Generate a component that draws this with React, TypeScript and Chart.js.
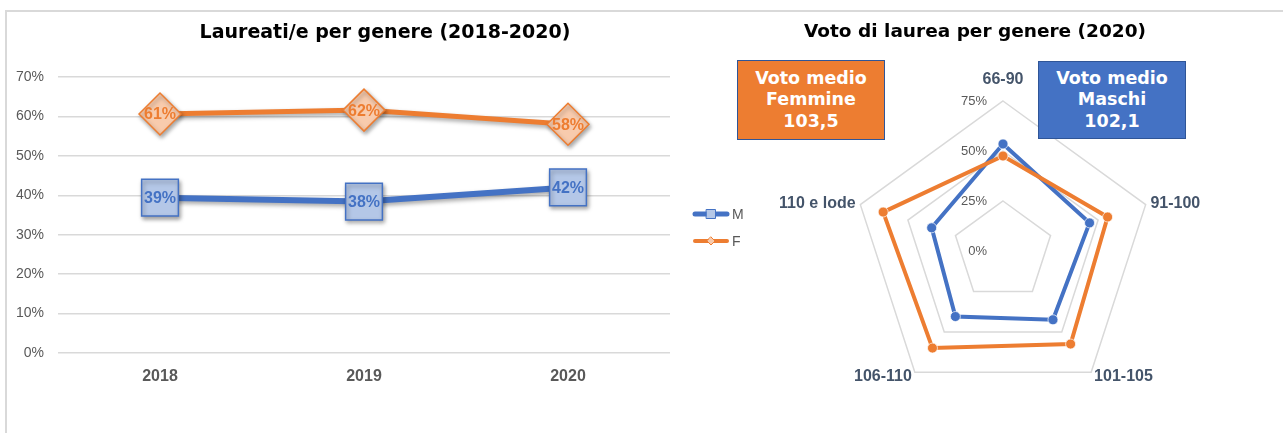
import React, { useEffect, useRef } from "react";
import { Chart, registerables } from "chart.js";

Chart.register(...registerables);

// ---- data ----
const years = ["2018", "2019", "2020"];
const maleShare = [0.394, 0.384, 0.42];
const femaleShare = [0.606, 0.616, 0.58];

const gradeBands = ["66-90", "91-100", "101-105", "106-110", "110 e lode"];
const maleGrades = [0.535, 0.455, 0.425, 0.405, 0.375];
const femaleGrades = [0.475, 0.55, 0.575, 0.6, 0.63];

const seriesNames = ["M", "F"];
const avgFemale = "103,5";
const avgMale = "102,1";
const leftTitle = "Laureati/e per genere (2018-2020)";
const rightTitle = "Voto di laurea per genere (2020)";

// ---- styles ----
const BLUE = "#4472C4";
const BLUE_LIGHT = "#B4C7E7";
const ORANGE = "#ED7D31";
const ORANGE_LIGHT = "#F8CBAD";
const GRID = "#D9D9D9";
const TEXT_GRAY = "#595959";
const SANS = "'Liberation Sans', Arial, sans-serif";
const VERDANA = "'DejaVu Sans', Verdana, sans-serif";

const pct = (v: number) => Math.round(v * 100) + "%";

const shadowPlugin = {
  id: "shadowPlugin",
  beforeDatasetsDraw(chart: any) {
    const c = chart.ctx;
    c.save();
    c.shadowColor = "rgba(0,0,0,0.35)";
    c.shadowBlur = 4;
    c.shadowOffsetX = 1.5;
    c.shadowOffsetY = 2.5;
  },
  afterDatasetsDraw(chart: any) {
    chart.ctx.restore();
  },
};

const lineLabelsPlugin = {
  id: "lineLabels",
  afterDraw(chart: any) {
    const c = chart.ctx;
    c.save();
    c.font = `bold 16px ${SANS}`;
    c.textAlign = "center";
    c.textBaseline = "middle";
    chart.data.datasets.forEach((ds: any, i: number) => {
      const meta = chart.getDatasetMeta(i);
      c.fillStyle = ds.borderColor;
      meta.data.forEach((pt: any, j: number) => {
        c.fillText(pct(ds.data[j]), pt.x, pt.y + 1);
      });
    });
    // legend
    const area = chart.chartArea;
    const x0 = area.right + 25;
    const yMid = (area.top + area.bottom) / 2 - 1;
    chart.data.datasets.forEach((ds: any, i: number) => {
      const y = yMid + i * 27;
      c.beginPath();
      c.strokeStyle = ds.borderColor;
      c.lineWidth = i === 0 ? 5 : 4;
      c.lineCap = "round";
      c.moveTo(x0, y);
      c.lineTo(x0 + 32, y);
      c.stroke();
      const cx = x0 + 16;
      c.lineWidth = 1;
      c.fillStyle = ds.pointBackgroundColor;
      c.strokeStyle = ds.pointBorderColor;
      c.beginPath();
      if (ds.pointStyle === "rect") {
        c.rect(cx - 4.5, y - 4.5, 9, 9);
      } else {
        c.moveTo(cx, y - 4);
        c.lineTo(cx + 4, y);
        c.lineTo(cx, y + 4);
        c.lineTo(cx - 4, y);
        c.closePath();
      }
      c.fill();
      c.stroke();
      c.fillStyle = TEXT_GRAY;
      c.font = `14px ${SANS}`;
      c.textAlign = "left";
      c.fillText(ds.label, x0 + 37, y + 1);
    });
    c.restore();
  },
};

const radarLabelsPlugin = {
  id: "radarLabels",
  afterDraw(chart: any) {
    const c = chart.ctx;
    const scale = chart.scales.r;
    c.save();
    // tick labels
    c.font = `13px ${SANS}`;
    c.fillStyle = TEXT_GRAY;
    c.textAlign = "right";
    c.textBaseline = "middle";
    scale.ticks.forEach((t: any) => {
      const d = scale.getDistanceFromCenterForValue(t.value);
      c.fillText(pct(t.value), scale.xCenter - 16, scale.yCenter - d);
    });
    // point labels
    c.font = `bold 16px ${SANS}`;
    c.fillStyle = "#44546A";
    const outer = scale.getDistanceFromCenterForValue(scale.max);
    chart.data.labels.forEach((lab: string, i: number) => {
      const p = scale.getPointPosition(i, outer + 5);
      const cos = Math.cos(p.angle);
      let y = p.y;
      if (cos > 0.05) c.textAlign = "left";
      else if (cos < -0.05) c.textAlign = "right";
      else {
        c.textAlign = "center";
        y -= 16;
      }
      c.fillText(lab, p.x, y);
    });
    c.restore();
  },
};

export default function App() {
  const lineRef = useRef<HTMLCanvasElement>(null);
  const radarRef = useRef<HTMLCanvasElement>(null);

  useEffect(() => {
    const lineChart = new Chart(lineRef.current as HTMLCanvasElement, {
      type: "line",
      data: {
        labels: years,
        datasets: [
          {
            label: seriesNames[0],
            data: maleShare,
            borderColor: BLUE,
            borderWidth: 6,
            pointStyle: "rect",
            pointRadius: 26,
            pointHoverRadius: 26,
            pointBackgroundColor: BLUE_LIGHT,
            pointBorderColor: BLUE,
            pointBorderWidth: 1.5,
            tension: 0,
          },
          {
            label: seriesNames[1],
            data: femaleShare,
            borderColor: ORANGE,
            borderWidth: 5,
            pointStyle: "rectRot",
            pointRadius: 21,
            pointHoverRadius: 21,
            pointBackgroundColor: ORANGE_LIGHT,
            pointBorderColor: ORANGE,
            pointBorderWidth: 1.5,
            tension: 0,
          },
        ],
      } as any,
      options: {
        responsive: false,
        animation: false,
        layout: { padding: { left: 0, right: 90, top: 77, bottom: 40 } },
        plugins: {
          legend: { display: false },
          title: { display: false },
          tooltip: { enabled: false },
        },
        scales: {
          x: {
            offset: true,
            grid: { display: false, drawTicks: false, offset: true },
            border: { display: false },
            ticks: {
              padding: 14,
              color: TEXT_GRAY,
              font: { family: SANS, size: 16, weight: "bold" },
            },
            afterFit: (s: any) => {
              s.height = 40;
            },
          },
          y: {
            min: 0,
            max: 0.7,
            ticks: {
              stepSize: 0.1,
              padding: 14,
              color: TEXT_GRAY,
              font: { family: SANS, size: 14 },
              callback: (v: any) => pct(Number(v)),
            },
            grid: { color: GRID, lineWidth: 1.5, drawTicks: false },
            border: { display: false },
            afterFit: (s: any) => {
              s.width = 58;
            },
          },
        },
      } as any,
      plugins: [shadowPlugin, lineLabelsPlugin],
    });

    const radarChart = new Chart(radarRef.current as HTMLCanvasElement, {
      type: "radar",
      data: {
        labels: gradeBands,
        datasets: [
          {
            label: seriesNames[0],
            data: maleGrades,
            borderColor: BLUE,
            borderWidth: 4,
            pointRadius: 5,
            pointHoverRadius: 5,
            pointBackgroundColor: BLUE,
            pointBorderColor: "rgba(255,255,255,0.7)",
            pointBorderWidth: 1,
            fill: false,
            order: 2,
          },
          {
            label: seriesNames[1],
            data: femaleGrades,
            borderColor: ORANGE,
            borderWidth: 4,
            pointRadius: 5,
            pointHoverRadius: 5,
            pointBackgroundColor: ORANGE,
            pointBorderColor: "rgba(255,255,255,0.7)",
            pointBorderWidth: 1,
            fill: false,
            order: 1,
          },
        ],
      } as any,
      options: {
        responsive: false,
        animation: false,
        layout: { padding: { left: 93, right: 130, top: 101, bottom: 32 } },
        plugins: {
          legend: { display: false },
          tooltip: { enabled: false },
        },
        scales: {
          r: {
            min: 0,
            max: 0.75,
            ticks: { display: false, stepSize: 0.25 },
            grid: { color: GRID, lineWidth: 1.5 },
            angleLines: { display: false },
            pointLabels: { display: false },
          },
        },
      } as any,
      plugins: [radarLabelsPlugin],
    });

    return () => {
      lineChart.destroy();
      radarChart.destroy();
    };
  }, []);

  const titleStyle: React.CSSProperties = {
    position: "absolute",
    top: 20,
    textAlign: "center",
    fontFamily: VERDANA,
    fontWeight: "bold",
    color: "#000",
    lineHeight: "22px",
    whiteSpace: "nowrap",
  };
  const boxStyle: React.CSSProperties = {
    position: "absolute",
    width: 148,
    boxSizing: "border-box",
    border: "1.5px solid #2F5597",
    color: "#fff",
    fontFamily: VERDANA,
    fontWeight: "bold",
    fontSize: 17.5,
    lineHeight: "21.5px",
    display: "flex",
    flexDirection: "column",
    alignItems: "center",
    justifyContent: "center",
    textAlign: "center",
  };

  return (
    <div
      style={{
        position: "fixed",
        left: 0,
        top: 0,
        width: 1283,
        height: 433,
        background: "#fff",
        overflow: "hidden",
      }}
    >
      <div
        style={{
          position: "absolute",
          left: 5,
          top: 10,
          width: 1300,
          height: 450,
          borderTop: "2px solid #D9D9D9",
          borderLeft: "2px solid #D9D9D9",
        }}
      />
      <canvas
        ref={lineRef}
        width={760}
        height={433}
        style={{ position: "absolute", left: 0, top: 0 }}
      />
      <canvas
        ref={radarRef}
        width={523}
        height={433}
        style={{ position: "absolute", left: 760, top: 0 }}
      />
      <div style={{ ...titleStyle, left: 185, width: 400, fontSize: 19 }}>{leftTitle}</div>
      <div style={{ ...titleStyle, left: 775, width: 400, fontSize: 18.5 }}>{rightTitle}</div>
      <div style={{ ...boxStyle, left: 737, top: 60, height: 80, background: ORANGE }}>
        <div>Voto medio</div>
        <div>Femmine</div>
        <div>{avgFemale}</div>
      </div>
      <div style={{ ...boxStyle, left: 1038, top: 61, height: 78, background: BLUE }}>
        <div>Voto medio</div>
        <div>Maschi</div>
        <div>{avgMale}</div>
      </div>
    </div>
  );
}
